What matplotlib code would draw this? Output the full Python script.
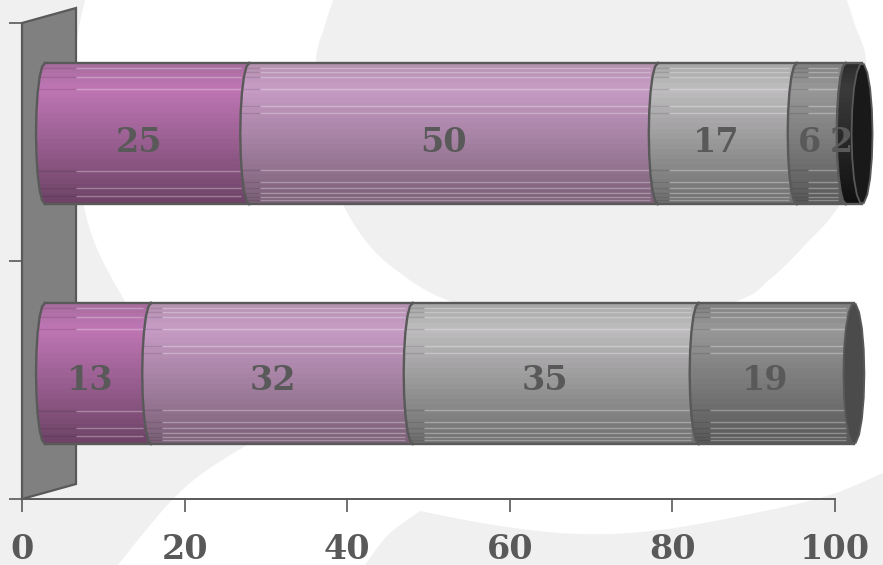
import numpy as np
import matplotlib
matplotlib.use("Agg")
import matplotlib.pyplot as plt
from matplotlib.colors import to_rgb
from matplotlib.patches import Polygon

# ---- data ----
categories = ["A", "B"]          # bottom to top
series_a = [13, 25]
series_b = [32, 50]
series_c = [35, 17]
series_d = [19, 6]
series_e = [0, 2]
x_ticks = [0, 20, 40, 60, 80, 100]

FIG_W, FIG_H = 883, 565
INK = "#595959"
# top, highlight, bottom of the cylinder shading
RAMPS = [
    ("#a56c9d", "#bf76b4", "#6c4265"),
    ("#b391ae", "#c79cc6", "#7a5f76"),
    ("#a6a6a6", "#bfbdbf", "#6e6e6e"),
    ("#7f7f7f", "#989898", "#585858"),
    ("#2b2b2b", "#3b3b3b", "#0f0f0f"),
]
CAP = {0: "#4b4b4b", 1: "#191919"}
LINES_SPARSE = [5, 14, 26, 108, 125, 133]
LINES_DENSE = [5, 9, 14, 26, 43, 50, 107, 119, 125, 130, 134, 137]

fig = plt.figure(figsize=(FIG_W / 100, FIG_H / 100), dpi=100, facecolor="white")

# ---- soft background shapes, in figure pixels ----
bg = fig.add_axes([0, 0, 1, 1], zorder=0)
bg.set_xlim(0, FIG_W)
bg.set_ylim(FIG_H, 0)
bg.axis("off")


def smooth(pts, n=14):
    p = np.array(pts, float)
    q = np.vstack([p[0], p, p[-1]])
    out = []
    for i in range(1, len(q) - 2):
        for t in np.linspace(0, 1, n, endpoint=False):
            out.append(0.5 * (2 * q[i] + (q[i + 1] - q[i - 1]) * t
                              + (2 * q[i - 1] - 5 * q[i] + 4 * q[i + 1] - q[i + 2]) * t ** 2
                              + (3 * q[i] - q[i - 1] - 3 * q[i + 1] + q[i + 2]) * t ** 3))
    out.append(p[-1])
    return np.array(out)


GREY = "#f0f0f0"
left_a = smooth([(85, 0), (76, 62), (84, 207), (126, 303), (190, 390), (262, 436)])
left_b = smooth([(262, 436), (207, 470), (175, 497), (146, 530), (118, 565)])
left = np.r_[[[0, 0]], left_a, left_b, [[0, 565]]]
bg.fill(left[:, 0], left[:, 1], color=GREY, lw=0)
blob = smooth([(340, -20), (325, 25), (316, 62), (322, 130), (337, 190), (362, 236), (396, 270),
               (454, 303), (590, 345), (732, 303), (769, 280), (805, 245), (842, 200),
               (860, 130), (866, 62), (855, 25), (840, -20)])
bg.fill(blob[:, 0], blob[:, 1], color=GREY, lw=0)
low = np.r_[smooth([(365, 565), (388, 535), (420, 511)]),
            smooth([(420, 511), (500, 526), (580, 534), (660, 530), (760, 512), (830, 495), (883, 473)]),
            [[883, 565]]]
bg.fill(low[:, 0], low[:, 1], color=GREY, lw=0)

# ---- main axes ----
ax = fig.add_axes([22 / FIG_W, 1 - 499 / FIG_H, 813 / FIG_W, 476 / FIG_H], zorder=1)
ax.patch.set_alpha(0)
PX = 100 / 813          # data units per pixel, x
PY = 2 / 476            # data units per pixel, y

# back wall
wall_dx, wall_dy = 54 * PX, 15 * PY
ax.add_patch(Polygon([(0, 0), (wall_dx, wall_dy), (wall_dx, 2 + wall_dy), (0, 2)],
                     closed=True, fc="#808080", ec=INK, lw=1.6, clip_on=False, zorder=1))

depth_x, depth_y = 23 * PX, 7.5 * PY
half_h = 70.5 * PY
rx = 9 * PX
STRETCH = 1.005


def arc(x0, yc, left=True, n=11):
    t = np.linspace(-np.pi / 2, np.pi / 2, n)
    sign = -1 if left else 1
    return x0 + sign * rx * np.cos(t), yc + half_h * np.sin(t)


series = [series_a, series_b, series_c, series_d, series_e]
for i, cat in enumerate(categories):
    yc = 1 + (i - 0.5) * 1.008 + depth_y
    start = 0
    n_seg = [k for k, s in enumerate(series) if s[i] > 0]
    for k in n_seg:
        val = series[k][i]
        end = start + val
        x0 = start * STRETCH + depth_x
        x1 = end * STRETCH + depth_x
        lx, ly = arc(x0, yc, left=True)
        last = k == n_seg[-1]
        if last:
            rx_, ry_ = arc(x1, yc, left=False)
        else:
            rx_, ry_ = np.array([x1, x1]), np.array([yc - half_h, yc + half_h])
        px = np.r_[lx, rx_[::-1]]
        py = np.r_[ly, ry_[::-1]]
        body = Polygon(np.c_[px, py], closed=True, fc="none", ec="none", clip_on=False, zorder=2)
        ax.add_patch(body)
        top, mid, bot = (np.array(to_rgb(c)) for c in RAMPS[k])
        rows = 28
        rel = (np.arange(rows) + 0.5) / rows
        grad = np.array([top + (mid - top) * r / 0.18 if r < 0.18
                         else mid + (bot - mid) * (r - 0.18) / 0.82 for r in rel])[:, None, :]
        ye = np.linspace(yc + half_h, yc - half_h, rows + 1)
        mesh = ax.pcolormesh([x0 - rx, x1 + rx], ye, grad, shading="flat", zorder=2,
                             antialiased=False, linewidth=0)
        mesh.set_clip_box(None)
        mesh.set_clip_path(body)
        # highlight streaks
        rel_lines = LINES_SPARSE if k == n_seg[0] else LINES_DENSE
        if k < 4:
            for r in rel_lines:
                yy = yc + half_h - r * PY
                bright_from = max(x0 + 11 * PX, wall_dx)
                for a, b, col, alpha in ((x0 - rx, bright_from, "black", 0.10),
                                         (bright_from, x1 - 8 * PX, "white", 0.30)):
                    ln, = ax.plot([a, b], [yy, yy], color=col, alpha=alpha, lw=1.0, zorder=2.1,
                                  solid_capstyle="butt")
                    ln.set_clip_box(None)
                    ln.set_clip_path(body)
        # outline
        ax.plot(lx, ly, color=INK, lw=1.7, clip_on=False, zorder=2.3, solid_joinstyle="round")
        for s in (-1, 1):
            ax.plot([x0, x1], [yc + s * half_h] * 2, color=INK, lw=1.7, clip_on=False, zorder=2.3)
        if last:
            t = np.linspace(0, 2 * np.pi, 19)
            capx = x1 + (10.5 * PX) * np.cos(t)
            capy = yc + half_h * np.sin(t)
            ax.add_patch(Polygon(np.c_[capx, capy], closed=True, fc=CAP[i], ec=INK, lw=1.3,
                                 clip_on=False, zorder=2.4))
        ax.text((start + end) / 2 + 15 * PX, i + 0.5, f"{val}",
                ha="center", va="center", fontsize=24, fontweight="bold", family="DejaVu Serif",
                color=INK, zorder=3)
        start = end

ax.set_xlim(0, 100)
ax.set_ylim(0, 2)
ax.set_xticks(x_ticks)
ax.set_yticks([0, 1, 2])
ax.set_yticklabels([])
ax.tick_params(axis="both", length=9.4, width=1.2, color=INK)
ax.tick_params(axis="x", pad=15, labelsize=24, labelcolor=INK)
for lab in ax.get_xticklabels():
    lab.set_fontfamily("DejaVu Serif")
    lab.set_fontweight("bold")
for name in ("top", "right"):
    ax.spines[name].set_visible(False)
ax.spines["bottom"].set_color(INK)
ax.spines["bottom"].set_linewidth(1.4)
ax.spines["left"].set_color(INK)
ax.spines["left"].set_linewidth(1.4)

fig.savefig("out.png", dpi=100)
